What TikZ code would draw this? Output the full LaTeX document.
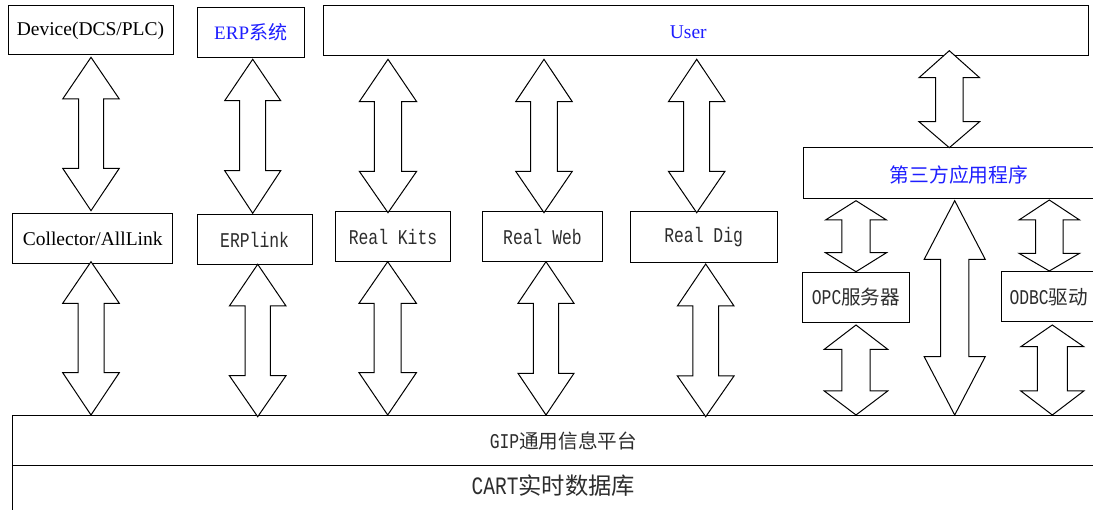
\documentclass[tikz,border=0pt]{standalone}
\usepackage{fontspec}
\setmainfont{Liberation Serif}
\newfontfamily\cjk{Noto Sans CJK SC}
\newfontfamily\monof[FakeStretch=0.78]{Liberation Mono}
\definecolor{lblue}{RGB}{30,30,255}
\definecolor{tgray}{RGB}{45,45,45}
\newcommand\boxnode[6]{%
  \node[box, minimum width={(#4-#2)*1pt}, minimum height={(#5-#3)*1pt}] (#1) at ({(#2+#4)/2},{(#3+#5)/2}) {#6};}
\newcommand\barrow[7]{%
  \draw[blockarrow] (#1,#2) -- (#1+#6,#3) -- (#1+#7,#3) -- (#1+#7,#4) -- (#1+#6,#4) -- (#1,#5)
    -- (#1-#6,#4) -- (#1-#7,#4) -- (#1-#7,#3) -- (#1-#6,#3) -- cycle;}
\newcommand\mtxt[1]{{\fontsize{21}{24}\selectfont\monof #1}}
\newcommand\mbig[1]{{\fontsize{25}{28}\selectfont\monof #1}}
\begin{document}
\begin{tikzpicture}[x=1pt,y=-1pt,
  box/.style={draw, line width=1pt, fill=white, inner sep=0pt, rectangle},
  blockarrow/.style={draw, line width=1pt, fill=white, line join=miter},
  tfont/.style={font=\fontsize{19.5}{22}\selectfont}]
\useasboundingbox (0,0) rectangle (1093,510);
\clip (0,0) rectangle (1093,510);
% boxes
\boxnode{dev}{8}{5.7}{173}{55}{\fontsize{19.5}{22}\selectfont Device(DCS/PLC)}
\boxnode{erp}{197.3}{7.7}{304}{57.7}{\fontsize{19}{22}\selectfont\color{lblue}ERP{\cjk 系统}}
\boxnode{user}{323.7}{5.7}{1088.3}{55.7}{}
\node[tfont, text=lblue, inner sep=0pt] (userlbl) at (688.3,32.7) {User};
\boxnode{coll}{12.7}{214}{172.7}{264}{\fontsize{19.5}{22}\selectfont Collector/AllLink}
\boxnode{erplink}{197.3}{214.7}{312}{264.7}{\color{tgray}\mtxt{ERPlink}}
\boxnode{kits}{335.7}{212}{450.3}{262}{\color{tgray}\mtxt{Real Kits}}
\boxnode{web}{482.3}{212}{602.7}{262}{\color{tgray}\mtxt{Real Web}}
\boxnode{dig}{630}{212}{777.3}{262.5}{\color{tgray}\mtxt{Real Dig}}
\boxnode{third}{803.3}{147.7}{1115}{198.7}{}
\node[font=\fontsize{19.8}{22}\selectfont\cjk, text=lblue, inner sep=0pt] (thirdlbl) at (959,175) {第三方应用程序};
\boxnode{opc}{802.7}{272.7}{909.3}{322.3}{\fontsize{19.6}{22}\selectfont\color{tgray}\mtxt{OPC}{\cjk 服务器}}
\boxnode{odbc}{1001}{271.7}{1115}{321.7}{}
\node[anchor=west, inner sep=0pt, font=\fontsize{19.6}{22}\selectfont, text=tgray] (odbclbl) at (1009.3,297) {\mtxt{ODBC}{\cjk 驱动}};
\boxnode{gip}{12.3}{415.7}{1115}{465.3}{}
\node[inner sep=0pt, font=\fontsize{19.6}{22}\selectfont, text=tgray] (giplbl) at (563.3,441.5) {\mtxt{GIP}{\cjk 通用信息平台}};
\boxnode{cart}{12.3}{465.3}{1115}{530}{}
\node[inner sep=0pt, font=\fontsize{23.3}{26}\selectfont, text=tgray] (cartlbl) at (553.3,486) {\mbig{CART}{\cjk 实时数据库}};
% block arrows
\barrow{91}{57.3}{99}{168.3}{210.7}{28.3}{12.5}
\barrow{252.7}{59.3}{100.7}{170.7}{213.3}{28}{13}
\barrow{388}{59.3}{101.7}{171.3}{212.7}{28.7}{13.7}
\barrow{544}{59.3}{101.7}{171.3}{212.7}{28.3}{13.3}
\barrow{696.7}{59.3}{101.7}{171.3}{212.7}{28.3}{13}
\barrow{949.3}{50.7}{77.7}{121.7}{147.7}{30.3}{13.7}
\barrow{856}{200.7}{220}{252.7}{271.7}{30.5}{14.2}
\barrow{954.7}{200.7}{259.3}{356.7}{415}{30.5}{14.2}
\barrow{1049.3}{200}{220}{253.3}{271}{30.3}{13.8}
\barrow{856}{325}{349.3}{391}{415}{31.7}{14.2}
\barrow{1052.3}{325}{346.7}{391}{415}{31.5}{15}
\barrow{91}{261.7}{303.3}{372.7}{415}{28.3}{13}
\barrow{257.7}{264.3}{306}{375.7}{416.7}{28.3}{12.7}
\barrow{387.7}{261.7}{303.3}{372.7}{415}{28.7}{13.5}
\barrow{546}{261.7}{303.3}{373.3}{415}{28}{12.7}
\barrow{705.7}{264}{306}{376}{416.7}{28.3}{12.8}
\end{tikzpicture}
\end{document}
